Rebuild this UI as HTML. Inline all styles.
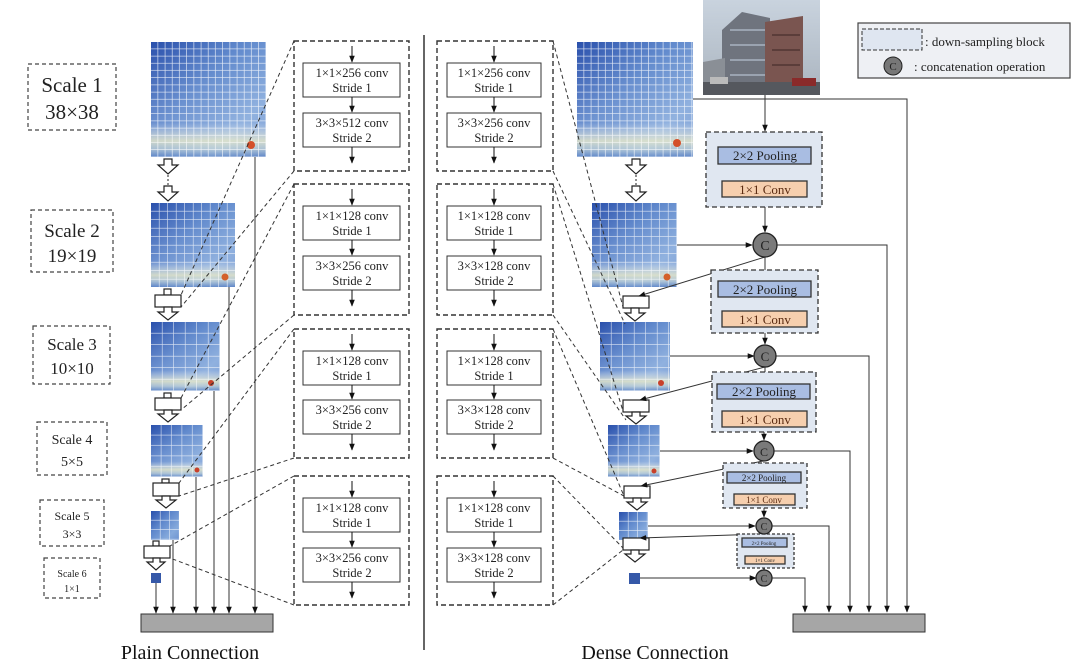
<!DOCTYPE html>
<html><head><meta charset="utf-8"><style>
html,body{margin:0;padding:0;background:#fff;}
svg{display:block;font-family:"Liberation Serif",serif;}
</style></head><body>
<svg width="1080" height="664" viewBox="0 0 1080 664" xmlns="http://www.w3.org/2000/svg">
<defs>
<linearGradient id="hg" x1="0" y1="0" x2="1" y2="1">
<stop offset="0" stop-color="#2a50ac"/><stop offset="0.4" stop-color="#5f88cc"/><stop offset="0.75" stop-color="#86aadc"/><stop offset="1" stop-color="#6d93d0"/>
</linearGradient>
<linearGradient id="band" x1="0" y1="0" x2="0" y2="1">
<stop offset="0" stop-color="#fff" stop-opacity="0"/><stop offset="0.7" stop-color="#fff" stop-opacity="0.1"/><stop offset="0.86" stop-color="#f4f1c8" stop-opacity="0.75"/><stop offset="0.93" stop-color="#e8eed8" stop-opacity="0.5"/><stop offset="1" stop-color="#4f78c0" stop-opacity="0.5"/>
</linearGradient>
<pattern id="g1" x="151" y="42" width="7.2" height="7.2" patternUnits="userSpaceOnUse"><path d="M7.2 0V7.2M0 7.2H7.2" stroke="#fff" stroke-width="1.3" opacity="0.85"/></pattern>
<pattern id="g1b" x="577" y="42" width="7.2" height="7.2" patternUnits="userSpaceOnUse"><path d="M7.2 0V7.2M0 7.2H7.2" stroke="#fff" stroke-width="1.3" opacity="0.85"/></pattern>
<pattern id="g2" x="151" y="203" width="8.5" height="8.5" patternUnits="userSpaceOnUse"><path d="M8.5 0V8.5M0 8.5H8.5" stroke="#fff" stroke-width="1.2" opacity="0.8"/></pattern>
<pattern id="g2b" x="592" y="203" width="8.5" height="8.5" patternUnits="userSpaceOnUse"><path d="M8.5 0V8.5M0 8.5H8.5" stroke="#fff" stroke-width="1.2" opacity="0.8"/></pattern>
<pattern id="g3" x="151" y="322" width="11.5" height="11.5" patternUnits="userSpaceOnUse"><path d="M11.5 0V11.5M0 11.5H11.5" stroke="#fff" stroke-width="1.2" opacity="0.8"/></pattern>
<pattern id="g3b" x="600" y="322" width="11.5" height="11.5" patternUnits="userSpaceOnUse"><path d="M11.5 0V11.5M0 11.5H11.5" stroke="#fff" stroke-width="1.2" opacity="0.8"/></pattern>
<pattern id="g4" x="151" y="425" width="10.4" height="10.4" patternUnits="userSpaceOnUse"><path d="M10.4 0V10.4M0 10.4H10.4" stroke="#fff" stroke-width="1.2" opacity="0.8"/></pattern>
<pattern id="g4b" x="608" y="425" width="10.4" height="10.4" patternUnits="userSpaceOnUse"><path d="M10.4 0V10.4M0 10.4H10.4" stroke="#fff" stroke-width="1.2" opacity="0.8"/></pattern>
<pattern id="g5" x="151" y="511" width="9.5" height="9.5" patternUnits="userSpaceOnUse"><path d="M9.5 0V9.5M0 9.5H9.5" stroke="#fff" stroke-width="1.2" opacity="0.8"/></pattern>
<pattern id="g5b" x="619" y="512" width="9.5" height="9.5" patternUnits="userSpaceOnUse"><path d="M9.5 0V9.5M0 9.5H9.5" stroke="#fff" stroke-width="1.2" opacity="0.8"/></pattern>
<marker id="ah" viewBox="0 0 10 10" refX="9" refY="5" markerWidth="7" markerHeight="7" orient="auto"><path d="M0 1L10 5L0 9z" fill="#111"/></marker>
<linearGradient id="sky" x1="0" y1="0" x2="0" y2="1"><stop offset="0" stop-color="#c9d3de"/><stop offset="1" stop-color="#aab4bf"/></linearGradient>
</defs>

<!-- Scale labels -->
<g fill="none" stroke="#444" stroke-width="1.2" stroke-dasharray="4,3">
<rect x="28" y="64" width="88" height="66"/>
<rect x="31" y="210" width="82" height="62"/>
<rect x="33" y="326" width="77" height="58"/>
<rect x="37" y="422" width="70" height="53"/>
<rect x="40" y="500" width="64" height="46"/>
<rect x="44" y="558" width="56" height="40"/>
</g>
<g fill="#222" text-anchor="middle">
<text x="72" y="92" font-size="21">Scale 1</text><text x="72" y="119" font-size="21">38×38</text>
<text x="72" y="237" font-size="19">Scale 2</text><text x="72" y="262" font-size="19">19×19</text>
<text x="72" y="350" font-size="17">Scale 3</text><text x="72" y="374" font-size="17">10×10</text>
<text x="72" y="444" font-size="14">Scale 4</text><text x="72" y="466" font-size="14">5×5</text>
<text x="72" y="520" font-size="12">Scale 5</text><text x="72" y="538" font-size="12">3×3</text>
<text x="72" y="577" font-size="10">Scale 6</text><text x="72" y="592" font-size="10">1×1</text>
</g>

<!-- Heatmaps left -->
<g>
<rect x="151" y="42" width="115" height="115" fill="url(#hg)"/><rect x="151" y="42" width="115" height="115" fill="url(#band)"/><rect x="151" y="42" width="115" height="115" fill="url(#g1)"/><circle cx="251" cy="145" r="4" fill="#d4502a"/>
<rect x="151" y="203" width="84" height="84" fill="url(#hg)"/><rect x="151" y="203" width="84" height="84" fill="url(#band)"/><rect x="151" y="203" width="84" height="84" fill="url(#g2)"/><circle cx="225" cy="277" r="3.5" fill="#d4602a"/>
<rect x="151" y="322" width="69" height="69" fill="url(#hg)"/><rect x="151" y="322" width="69" height="69" fill="url(#band)"/><rect x="151" y="322" width="69" height="69" fill="url(#g3)"/><circle cx="211" cy="383" r="3" fill="#c8402a"/>
<rect x="151" y="425" width="52" height="52" fill="url(#hg)"/><rect x="151" y="425" width="52" height="52" fill="url(#band)"/><rect x="151" y="425" width="52" height="52" fill="url(#g4)"/><circle cx="197" cy="470" r="2.5" fill="#c8402a"/>
<rect x="151" y="511" width="28" height="29" fill="url(#hg)"/><rect x="151" y="511" width="28" height="29" fill="url(#g5)"/>
<rect x="151" y="573" width="10" height="10" fill="#3558a8"/>
</g>
<!-- Heatmaps dense -->
<g>
<rect x="577" y="42" width="116" height="115" fill="url(#hg)"/><rect x="577" y="42" width="116" height="115" fill="url(#band)"/><rect x="577" y="42" width="116" height="115" fill="url(#g1b)"/><circle cx="677" cy="143" r="4" fill="#d4502a"/>
<rect x="592" y="203" width="85" height="84" fill="url(#hg)"/><rect x="592" y="203" width="85" height="84" fill="url(#band)"/><rect x="592" y="203" width="85" height="84" fill="url(#g2b)"/><circle cx="667" cy="277" r="3.5" fill="#d4602a"/>
<rect x="600" y="322" width="70" height="69" fill="url(#hg)"/><rect x="600" y="322" width="70" height="69" fill="url(#band)"/><rect x="600" y="322" width="70" height="69" fill="url(#g3b)"/><circle cx="661" cy="383" r="3" fill="#c8402a"/>
<rect x="608" y="425" width="52" height="52" fill="url(#hg)"/><rect x="608" y="425" width="52" height="52" fill="url(#band)"/><rect x="608" y="425" width="52" height="52" fill="url(#g4b)"/><circle cx="654" cy="471" r="2.5" fill="#c8402a"/>
<rect x="619" y="512" width="29" height="28" fill="url(#hg)"/><rect x="619" y="512" width="29" height="28" fill="url(#g5b)"/>
<rect x="629" y="573" width="11" height="11" fill="#3558a8"/>
</g>

<!-- hollow arrows & blocks left -->
<g fill="#fff" stroke="#222" stroke-width="1.2">
<path d="M164 159h8v6h6l-10 9l-10-9h6z"/>
<path d="M164 186h8v6h6l-10 9l-10-9h6z"/>
<rect x="164" y="289" width="7" height="6"/><rect x="155" y="295" width="26" height="12"/>
<path d="M164 307h8v5h6l-10 8l-10-8h6z"/>
<rect x="164" y="393" width="7" height="5"/><rect x="155" y="398" width="26" height="12"/>
<path d="M164 410h8v4h6l-10 8l-10-8h6z"/>
<rect x="162" y="479" width="7" height="4"/><rect x="153" y="483" width="26" height="13"/>
<path d="M162 496h8v4h6l-10 8l-10-8h6z"/>
<rect x="153" y="541" width="6" height="5"/><rect x="144" y="546" width="26" height="12"/>
<path d="M153 558h7v4h5l-9 8l-9-8h6z"/>
</g>
<line x1="168" y1="175" x2="168" y2="186" stroke="#222" stroke-dasharray="2,2"/>
<!-- hollow arrows & blocks dense -->
<g fill="#fff" stroke="#222" stroke-width="1.2">
<path d="M632 159h8v6h6l-10 9l-10-9h6z"/>
<path d="M632 186h8v6h6l-10 9l-10-9h6z"/>
<rect x="623" y="296" width="26" height="12"/>
<path d="M631 308h8v5h6l-10 8l-10-8h6z"/>
<rect x="623" y="400" width="26" height="12"/>
<path d="M632 412h8v4h6l-10 8l-10-8h6z"/>
<rect x="624" y="486" width="26" height="12"/>
<path d="M633 498h8v4h6l-10 8l-10-8h6z"/>
<rect x="623" y="538" width="26" height="12"/>
<path d="M631 550h8v4h6l-10 8l-10-8h6z"/>
</g>
<line x1="636" y1="175" x2="636" y2="186" stroke="#222" stroke-dasharray="2,2"/>

<!-- plain vertical lines -->
<g stroke="#333" stroke-width="1" marker-end="url(#ah)">
<line x1="255" y1="157" x2="255" y2="613"/>
<line x1="229" y1="287" x2="229" y2="613"/>
<line x1="214" y1="391" x2="214" y2="613"/>
<line x1="196" y1="477" x2="196" y2="613"/>
<line x1="173" y1="540" x2="173" y2="613"/>
<line x1="156" y1="583" x2="156" y2="613"/>
</g>
<rect x="141" y="614" width="132" height="18" fill="#a6a6a6" stroke="#333"/>
<text x="190" y="659" font-size="20" text-anchor="middle" fill="#111">Plain Connection</text>

<!-- dashed diagonals left -->
<g stroke="#333" stroke-width="1" stroke-dasharray="4,3" fill="none">
<line x1="294" y1="41" x2="181" y2="295"/><line x1="294" y1="171" x2="181" y2="307"/>
<line x1="294" y1="184" x2="181" y2="398"/><line x1="294" y1="315" x2="181" y2="410"/>
<line x1="294" y1="329" x2="179" y2="483"/><line x1="294" y1="458" x2="179" y2="496"/>
<line x1="294" y1="476" x2="170" y2="546"/><line x1="294" y1="605" x2="170" y2="558"/>
</g>
<!-- dashed diagonals dense -->
<g stroke="#333" stroke-width="1" stroke-dasharray="4,3" fill="none">
<line x1="553" y1="41" x2="623" y2="307"/><line x1="553" y1="171" x2="625" y2="324"/>
<line x1="553" y1="184" x2="623" y2="411"/><line x1="553" y1="315" x2="626" y2="420"/>
<line x1="553" y1="329" x2="624" y2="496"/><line x1="553" y1="458" x2="624" y2="496"/>
<line x1="553" y1="476" x2="623" y2="548"/><line x1="553" y1="605" x2="623" y2="550"/>
</g>

<!-- conv boxes -->
<g font-size="12.5" fill="#222" text-anchor="middle">
<g fill="none" stroke="#333" stroke-width="1.4" stroke-dasharray="5,3">
<rect x="294" y="41" width="115" height="130"/><rect x="294" y="184" width="115" height="131"/>
<rect x="294" y="329" width="115" height="129"/><rect x="294" y="476" width="115" height="129"/>
<rect x="437" y="41" width="116" height="130"/><rect x="437" y="184" width="116" height="131"/>
<rect x="437" y="329" width="116" height="129"/><rect x="437" y="476" width="116" height="129"/>
</g>
<g fill="#fff" stroke="#333" stroke-width="1">
<rect x="303" y="63" width="97" height="34"/><rect x="303" y="113" width="97" height="34"/>
<rect x="303" y="206" width="97" height="34"/><rect x="303" y="256" width="97" height="34"/>
<rect x="303" y="351" width="97" height="34"/><rect x="303" y="400" width="97" height="34"/>
<rect x="303" y="498" width="97" height="34"/><rect x="303" y="548" width="97" height="34"/>
<rect x="447" y="63" width="94" height="34"/><rect x="447" y="113" width="94" height="34"/>
<rect x="447" y="206" width="94" height="34"/><rect x="447" y="256" width="94" height="34"/>
<rect x="447" y="351" width="94" height="34"/><rect x="447" y="400" width="94" height="34"/>
<rect x="447" y="498" width="94" height="34"/><rect x="447" y="548" width="94" height="34"/>
</g>
<g stroke="#111" stroke-width="1" marker-end="url(#ah)">
<line x1="352" y1="46" x2="352" y2="62"/><line x1="352" y1="97" x2="352" y2="112"/><line x1="352" y1="147" x2="352" y2="163"/>
<line x1="352" y1="189" x2="352" y2="205"/><line x1="352" y1="240" x2="352" y2="255"/><line x1="352" y1="290" x2="352" y2="306"/>
<line x1="352" y1="334" x2="352" y2="350"/><line x1="352" y1="385" x2="352" y2="399"/><line x1="352" y1="434" x2="352" y2="450"/>
<line x1="352" y1="481" x2="352" y2="497"/><line x1="352" y1="532" x2="352" y2="547"/><line x1="352" y1="582" x2="352" y2="598"/>
<line x1="494" y1="46" x2="494" y2="62"/><line x1="494" y1="97" x2="494" y2="112"/><line x1="494" y1="147" x2="494" y2="163"/>
<line x1="494" y1="189" x2="494" y2="205"/><line x1="494" y1="240" x2="494" y2="255"/><line x1="494" y1="290" x2="494" y2="306"/>
<line x1="494" y1="334" x2="494" y2="350"/><line x1="494" y1="385" x2="494" y2="399"/><line x1="494" y1="434" x2="494" y2="450"/>
<line x1="494" y1="481" x2="494" y2="497"/><line x1="494" y1="532" x2="494" y2="547"/><line x1="494" y1="582" x2="494" y2="598"/>
</g>
<text x="352" y="77">1×1×256 conv</text><text x="352" y="92">Stride 1</text>
<text x="352" y="127">3×3×512 conv</text><text x="352" y="142">Stride 2</text>
<text x="352" y="220">1×1×128 conv</text><text x="352" y="235">Stride 1</text>
<text x="352" y="270">3×3×256 conv</text><text x="352" y="285">Stride 2</text>
<text x="352" y="365">1×1×128 conv</text><text x="352" y="380">Stride 1</text>
<text x="352" y="414">3×3×256 conv</text><text x="352" y="429">Stride 2</text>
<text x="352" y="512">1×1×128 conv</text><text x="352" y="527">Stride 1</text>
<text x="352" y="562">3×3×256 conv</text><text x="352" y="577">Stride 2</text>
<text x="494" y="77">1×1×256 conv</text><text x="494" y="92">Stride 1</text>
<text x="494" y="127">3×3×256 conv</text><text x="494" y="142">Stride 2</text>
<text x="494" y="220">1×1×128 conv</text><text x="494" y="235">Stride 1</text>
<text x="494" y="270">3×3×128 conv</text><text x="494" y="285">Stride 2</text>
<text x="494" y="365">1×1×128 conv</text><text x="494" y="380">Stride 1</text>
<text x="494" y="414">3×3×128 conv</text><text x="494" y="429">Stride 2</text>
<text x="494" y="512">1×1×128 conv</text><text x="494" y="527">Stride 1</text>
<text x="494" y="562">3×3×128 conv</text><text x="494" y="577">Stride 2</text>
</g>

<!-- divider -->
<line x1="424" y1="35" x2="424" y2="650" stroke="#333" stroke-width="1.5"/>

<!-- photo -->
<rect x="703" y="0" width="117" height="95" fill="url(#sky)"/>
<path d="M722 88V30l20-18l28 6v70z" fill="#6f747e"/>
<path d="M730 30h40M730 45h40M730 60h40M730 75h40" stroke="#9aa3b0" stroke-width="2"/>
<path d="M765 88V22l38 -6v72z" fill="#7a5550"/>
<path d="M772 35h28M772 50h28M772 65h28" stroke="#5b3d3a" stroke-width="2"/>
<path d="M703 88V62l22-4v30z" fill="#8a8f96"/>
<rect x="703" y="82" width="117" height="13" fill="#55585e"/>
<rect x="710" y="77" width="18" height="7" fill="#bbb"/><rect x="792" y="78" width="24" height="8" fill="#8a2a2a"/>

<!-- legend -->
<rect x="858" y="23" width="212" height="55" fill="#eef0f4" stroke="#444" stroke-width="1.2"/>
<rect x="862" y="29" width="60" height="21" fill="#dfe6f1" stroke="#333" stroke-dasharray="4,2"/>
<text x="925" y="46" font-size="13" fill="#222">: down-sampling block</text>
<circle cx="893" cy="66" r="9" fill="#777" stroke="#222"/><text x="893" y="70" font-size="11" text-anchor="middle" fill="#222">C</text>
<text x="914" y="71" font-size="13" fill="#222">: concatenation operation</text>

<!-- dense right connections -->
<g stroke="#333" stroke-width="1" fill="none">
<path d="M693 99H907V612" marker-end="url(#ah)"/>
<path d="M765 95V131" marker-end="url(#ah)"/>
<path d="M777 245H887V612" marker-end="url(#ah)"/>
<path d="M776 356H869V612" marker-end="url(#ah)"/>
<path d="M774 451H850V612" marker-end="url(#ah)"/>
<path d="M772 526H829V612" marker-end="url(#ah)"/>
<path d="M772 578H805V612" marker-end="url(#ah)"/>
<line x1="677" y1="245" x2="752" y2="245" marker-end="url(#ah)"/>
<line x1="670" y1="356" x2="754" y2="356" marker-end="url(#ah)"/>
<line x1="660" y1="451" x2="753" y2="451" marker-end="url(#ah)"/>
<line x1="648" y1="526" x2="755" y2="526" marker-end="url(#ah)"/>
<line x1="640" y1="578" x2="756" y2="578" marker-end="url(#ah)"/>
<line x1="765" y1="257" x2="639" y2="296" marker-end="url(#ah)"/>
<line x1="765" y1="367" x2="640" y2="400" marker-end="url(#ah)"/>
<line x1="763" y1="461" x2="641" y2="486" marker-end="url(#ah)"/>
<line x1="764" y1="534" x2="640" y2="538" marker-end="url(#ah)"/>
<line x1="765" y1="207" x2="765" y2="232" marker-end="url(#ah)"/>
<line x1="765" y1="257" x2="765" y2="280" marker-end="url(#ah)"/>
<line x1="765" y1="333" x2="765" y2="344" marker-end="url(#ah)"/>
<line x1="765" y1="367" x2="765" y2="383" marker-end="url(#ah)"/>
<line x1="764" y1="432" x2="764" y2="440" marker-end="url(#ah)"/>
<line x1="764" y1="462" x2="764" y2="471" marker-end="url(#ah)"/>
<line x1="764" y1="508" x2="764" y2="517" marker-end="url(#ah)"/>
<line x1="764" y1="535" x2="764" y2="537" marker-end="url(#ah)"/>
<line x1="764" y1="568" x2="764" y2="570" marker-end="url(#ah)"/>
<line x1="765" y1="164" x2="765" y2="180" marker-end="url(#ah)"/>
<line x1="765" y1="297" x2="765" y2="310" marker-end="url(#ah)"/>
<line x1="765" y1="399" x2="765" y2="410" marker-end="url(#ah)"/>
<line x1="764" y1="483" x2="764" y2="493" marker-end="url(#ah)"/>
<line x1="764" y1="547" x2="764" y2="555" marker-end="url(#ah)"/>
</g>

<!-- downsampling blocks -->
<g stroke="#333" stroke-width="1.3">
<rect x="706" y="132" width="116" height="75" fill="#e0e7f1" stroke-dasharray="5,3"/>
<rect x="718" y="147" width="93" height="17" fill="#a9bde2"/>
<rect x="722" y="181" width="85" height="16" fill="#f6cfae"/>
<rect x="711" y="270" width="107" height="63" fill="#e0e7f1" stroke-dasharray="5,3"/>
<rect x="718" y="281" width="93" height="16" fill="#a9bde2"/>
<rect x="722" y="311" width="85" height="16" fill="#f6cfae"/>
<rect x="712" y="372" width="104" height="60" fill="#e0e7f1" stroke-dasharray="5,3"/>
<rect x="717" y="384" width="93" height="15" fill="#a9bde2"/>
<rect x="722" y="411" width="85" height="16" fill="#f6cfae"/>
<rect x="723" y="463" width="84" height="45" fill="#e0e7f1" stroke-dasharray="4,3"/>
<rect x="727" y="472" width="74" height="11" fill="#a9bde2"/>
<rect x="734" y="494" width="61" height="11" fill="#f6cfae"/>
<rect x="737" y="534" width="57" height="34" fill="#e0e7f1" stroke-dasharray="3,2"/>
<rect x="742" y="538" width="45" height="9" fill="#a9bde2"/>
<rect x="745" y="556" width="40" height="8" fill="#f6cfae"/>
</g>
<g text-anchor="middle" fill="#222">
<text x="765" y="160" font-size="13">2×2 Pooling</text><text x="765" y="194" font-size="13" fill="#5a2a10">1×1 Conv</text>
<text x="765" y="294" font-size="13">2×2 Pooling</text><text x="765" y="324" font-size="13" fill="#5a2a10">1×1 Conv</text>
<text x="764" y="396" font-size="13">2×2 Pooling</text><text x="765" y="424" font-size="13" fill="#5a2a10">1×1 Conv</text>
<text x="764" y="481" font-size="9">2×2 Pooling</text><text x="764" y="503" font-size="9" fill="#5a2a10">1×1 Conv</text>
<text x="764" y="545" font-size="5">2×2 Pooling</text><text x="765" y="562" font-size="5">1×1 Conv</text>
</g>
<!-- C circles -->
<g fill="#7a7a7a" stroke="#222" stroke-width="1.3">
<circle cx="765" cy="245" r="12"/><circle cx="765" cy="356" r="11"/><circle cx="764" cy="451" r="10"/><circle cx="764" cy="526" r="8"/><circle cx="764" cy="578" r="8"/>
</g>
<g text-anchor="middle" fill="#222">
<text x="765" y="250" font-size="14">C</text><text x="765" y="361" font-size="13">C</text><text x="764" y="456" font-size="12">C</text><text x="764" y="530" font-size="10">C</text><text x="764" y="582" font-size="10">C</text>
</g>
<rect x="793" y="614" width="132" height="18" fill="#a6a6a6" stroke="#333"/>
<text x="655" y="659" font-size="20" text-anchor="middle" fill="#111">Dense Connection</text>
</svg>
</body></html>
